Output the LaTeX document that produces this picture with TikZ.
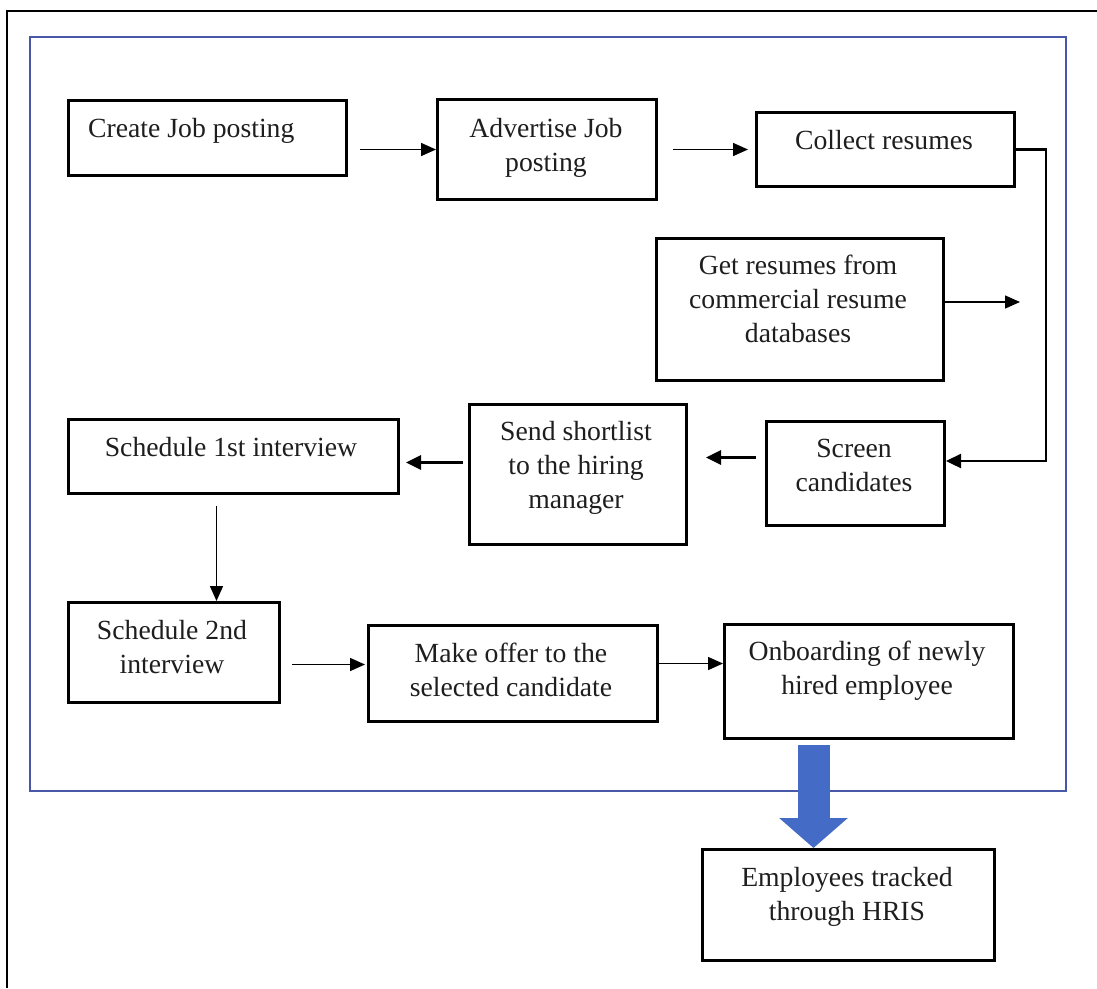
\documentclass[tikz,border=0pt]{standalone}
\usepackage{fontspec}
\setmainfont{Liberation Serif}
\usetikzlibrary{arrows.meta}
\definecolor{framecol}{RGB}{72,88,168}
\definecolor{bigarrow}{RGB}{68,108,198}
\definecolor{inktext}{RGB}{30,30,30}
\begin{document}
\begin{tikzpicture}[x=1pt,y=-1pt,
  stepbox/.style={draw=black, line width=3pt, anchor=north west, inner sep=0pt},
  % multi-line labels sit on the baseline of their last line
  lbl/.style={text=inktext, align=center, anchor=base, inner sep=0pt,
    font={\fontsize{27.7}{34}\selectfont}},
  arr/.style={draw=black, line width=1.5pt, -{Triangle[length=15pt,width=13pt]}},
  thickarr/.style={draw=black, line width=2.4pt, -{Triangle[length=15pt,width=14pt]}},
]
\useasboundingbox (0,0) rectangle (1097,988);

% outer page frame (open to the right and bottom)
\draw[line width=2.6pt] (7,988) -- (7,11) -- (1097,11);
% blue process frame
\draw[framecol, line width=2.2pt] (30,37) rectangle (1066,791);

% process boxes
\node[stepbox, minimum width=278pt, minimum height=75pt]  (create)    at (67,99)   {};
\node[stepbox, minimum width=219pt, minimum height=100pt] (advertise) at (436,98)  {};
\node[stepbox, minimum width=258pt, minimum height=74pt]  (collect)   at (755,111) {};
\node[stepbox, minimum width=287pt, minimum height=142pt] (getres)    at (655,237) {};
\node[stepbox, minimum width=178pt, minimum height=104pt] (screen)    at (765,420) {};
\node[stepbox, minimum width=217pt, minimum height=140pt] (send)      at (468,403) {};
\node[stepbox, minimum width=330pt, minimum height=74pt]  (sched1)    at (67,418)  {};
\node[stepbox, minimum width=211pt, minimum height=100pt] (sched2)    at (67,601)  {};
\node[stepbox, minimum width=289pt, minimum height=96pt]  (offer)     at (367,624) {};
\node[stepbox, minimum width=289pt, minimum height=114pt] (onboard)   at (723,623) {};
\node[stepbox, minimum width=292pt, minimum height=111pt] (hris)      at (701,848) {};

% box texts
\node[lbl, anchor=base west] (create-t) at (88,137) {Create Job posting};
\node[lbl] (advertise-t) at (546,171) {Advertise Job\\posting};
\node[lbl] (collect-t)   at (884,149) {Collect resumes};
\node[lbl] (getres-t)    at (798,342) {Get resumes from\\commercial resume\\databases};
\node[lbl] (screen-t)    at (854,491) {Screen\\candidates};
\node[lbl] (send-t)      at (576,508) {Send shortlist\\to the hiring\\manager};
\node[lbl] (sched1-t)    at (231,456) {Schedule 1st interview};
\node[lbl] (sched2-t)    at (172,673) {Schedule 2nd\\interview};
\node[lbl] (offer-t)     at (511,696) {Make offer to the\\selected candidate};
\node[lbl] (onboard-t)   at (867,694) {Onboarding of newly\\hired employee};
\node[lbl] (hris-t)      at (847,920) {Employees tracked\\through HRIS};

% connectors
\draw[arr, shorten <=12pt] (create.east |- advertise.west) -- (advertise.west);
\draw[arr, shorten <=15pt, shorten >=7pt] (advertise.east |- collect.west) -- (collect.west);

\coordinate (loopB) at (1046,461);
\draw[thickarr, line join=miter] (collect.east) -- (collect.east -| loopB) -- (loopB) -- (loopB -| screen.east);

\coordinate (dbend) at (1020,302);
\draw[arr] (getres.east |- dbend) -- (dbend);

\draw[thickarr, line width=2.8pt, shorten <=9pt, shorten >=18pt]
  ([yshift=16pt]screen.west) -- ([yshift=16pt]screen.west -| send.east);
\draw[thickarr, line width=2.8pt, shorten <=5pt, shorten >=6pt]
  ([yshift=12pt]send.west) -- ([yshift=12pt]send.west -| sched1.east);

\draw[arr, shorten <=11pt] ([xshift=-17pt]sched1.south) -- ([xshift=-17pt]sched1.south |- sched2.north);

\draw[arr, shorten <=11pt, shorten >=2pt] ([yshift=9pt]offer.west -| sched2.east) -- ([yshift=9pt]offer.west);
\draw[arr] ([yshift=10pt]offer.east) -- ([yshift=10pt]offer.east -| onboard.west);

% wide blue arrow to HRIS
\draw[bigarrow, line width=32pt, shorten <=5pt,
  -{Triangle[length=30pt,width=67pt]}]
  ([xshift=-55.5pt]onboard.south) -- ([xshift=-55.5pt]onboard.south |- hris.north);
\end{tikzpicture}
\end{document}
